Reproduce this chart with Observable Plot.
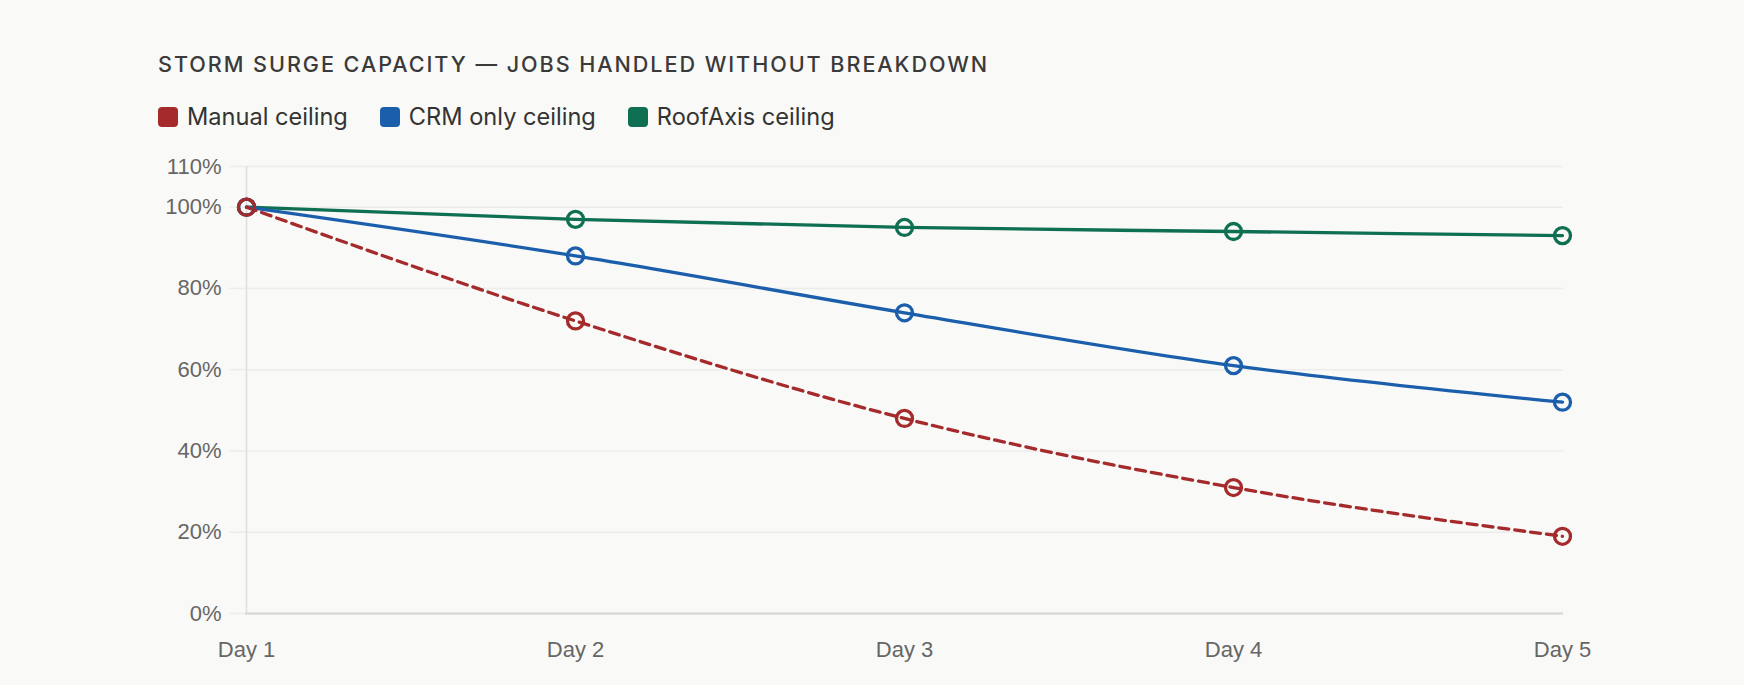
<!DOCTYPE html>
<html><head><meta charset="utf-8">
<script src="https://cdn.jsdelivr.net/npm/d3@7"></script>
<script src="https://cdn.jsdelivr.net/npm/@observablehq/plot@0.6"></script>
<style>
html,body{margin:0;background:#f9f9f7;}
body{width:1744px;height:685px;position:relative;overflow:hidden;font-family:Inter,"Noto Sans",sans-serif;}
#title{position:absolute;left:158px;top:52px;font-size:21.6px;font-weight:500;letter-spacing:0.09em;color:#3a3a3a;line-height:24px;white-space:nowrap;}
#legend{position:absolute;left:158px;top:103px;display:flex;align-items:center;font-size:23.6px;color:#333;line-height:28px;white-space:nowrap;}
.item{display:flex;align-items:center;margin-right:32px;}
.sw{width:20px;height:20px;border-radius:4px;margin-right:9px;}
#chart{position:absolute;left:0;top:140px;}
</style></head><body>
<div id="title"></div>
<div id="legend"></div>
<div id="chart"></div>
<script>
const titleText = "STORM SURGE CAPACITY — JOBS HANDLED WITHOUT BREAKDOWN";
const days = ["Day 1", "Day 2", "Day 3", "Day 4", "Day 5"];
const manual = [100, 72, 48, 31, 19];
const crmOnly = [100, 88, 74, 61, 52];
const roofAxis = [100, 97, 95, 94, 93];
const seriesNames = ["Manual ceiling", "CRM only ceiling", "RoofAxis ceiling"];
const seriesColors = ["#a52a2c", "#1b5eab", "#0f6f52"];
const yTicks = [0, 20, 40, 60, 80, 100, 110];

document.getElementById("title").textContent = titleText;
const legend = document.getElementById("legend");
seriesNames.forEach((n, i) => {
  const it = document.createElement("div"); it.className = "item";
  const sw = document.createElement("div"); sw.className = "sw"; sw.style.background = seriesColors[i];
  const tx = document.createElement("span"); tx.textContent = n;
  it.appendChild(sw); it.appendChild(tx); legend.appendChild(it);
});

const allValues = [manual, crmOnly, roofAxis];
const rows = s => days.map((d, j) => ({day: d, value: allValues[s][j]}));
const order = [2, 1, 0];

const marks = [
  Plot.gridY(yTicks, {stroke: "#ececea", strokeOpacity: 1, strokeWidth: 1.5}),
  Plot.axisY(yTicks, {tickSize: 16, tickPadding: 8, stroke: "#ececea", strokeOpacity: 1, strokeWidth: 1.5, fill: "#666", tickFormat: d => d + "%", label: null}),
  Plot.axisX({tickSize: 0, tickPadding: 28, fill: "#666", label: null}),
  Plot.ruleX([days[0]], {stroke: "#dedede", strokeWidth: 1.5}),
  Plot.ruleY([0], {stroke: "#d6d6d6", strokeWidth: 2})
];
for (const s of order) {
  marks.push(Plot.line(rows(s), {x: "day", y: "value", stroke: seriesColors[s], strokeWidth: 3.3, curve: "monotone-x", strokeDasharray: s === 0 ? "10,6" : null}));
}
for (const s of order) {
  marks.push(Plot.dot(rows(s), {x: "day", y: "value", r: 8, stroke: seriesColors[s], strokeWidth: 3.3, fill: "none"}));
}

const chart = Plot.plot({
  width: 1744,
  height: 545,
  marginLeft: 245,
  marginRight: 181,
  marginTop: 26,
  marginBottom: 72,
  x: {type: "point", domain: days, padding: 0, axis: null},
  y: {domain: [0, 110], axis: null},
  style: {background: "transparent", fontFamily: "'Liberation Sans', Arial, sans-serif", fontSize: "22px", color: "#666", overflow: "visible"},
  marks
});
document.getElementById("chart").appendChild(chart);
</script>
</body></html>
